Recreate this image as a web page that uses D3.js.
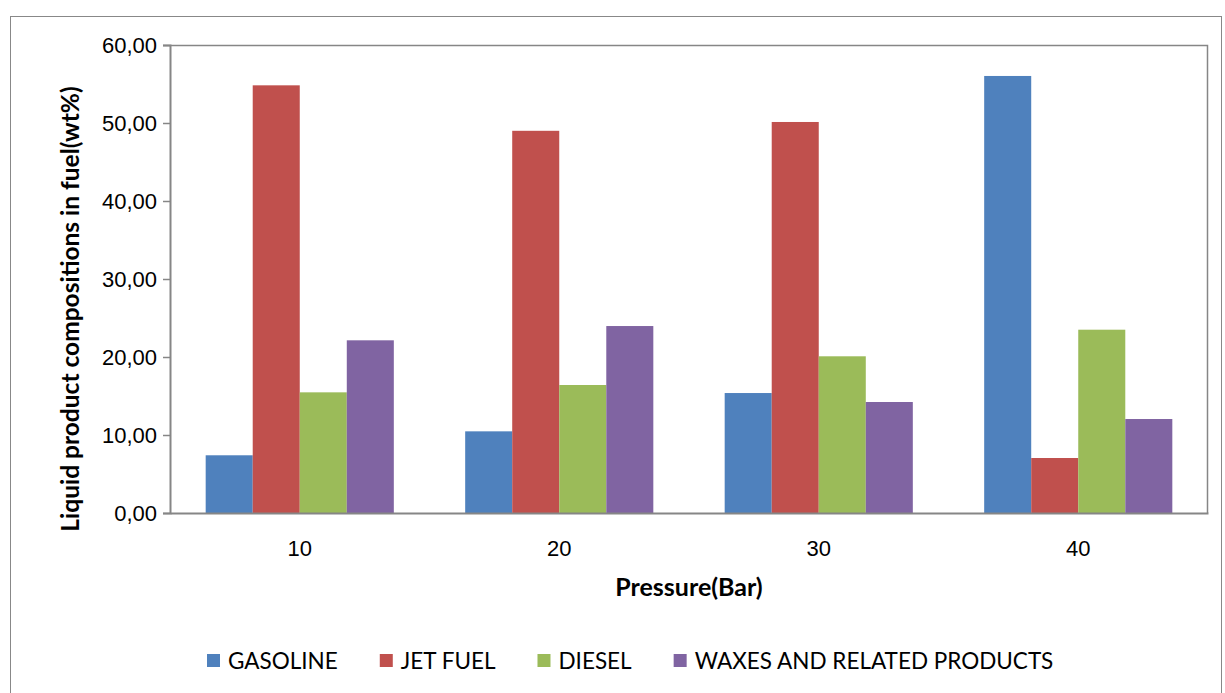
<!DOCTYPE html>
<html>
<head>
<meta charset="utf-8">
<script src="https://cdn.jsdelivr.net/npm/d3@7"></script>
<style>
  body { margin: 0; background: #fff; }
  svg { display: block; font-family: Lato, "Open Sans", sans-serif; }
</style>
</head>
<body>
<div id="chart"></div>
<script>
// Liquid product compositions vs pressure - grouped bar chart

const pressures = ["10", "20", "30", "40"];
const seriesNames = ["GASOLINE", "JET FUEL", "DIESEL", "WAXES AND RELATED PRODUCTS"];
const gasoline = [7.40, 10.47, 15.38, 56.03];
const jetFuel = [54.83, 49.00, 50.13, 7.05];
const diesel = [15.47, 16.41, 20.09, 23.50];
const waxes = [22.14, 23.97, 14.23, 12.05];
const yTicks = [0, 10, 20, 30, 40, 50, 60];

const seriesValues = [gasoline, jetFuel, diesel, waxes];
const colors = ["#4F81BD", "#C0504D", "#9BBB59", "#8064A2"];

const width = 1225, height = 693;
const margin = {top: 45, right: 17, bottom: 180, left: 170};
const plotW = width - margin.left - margin.right;
const plotH = height - margin.top - margin.bottom;

const svg = d3.select("#chart").append("svg")
    .attr("width", width)
    .attr("height", height);

// outer chart frame
svg.append("rect")
    .attr("x", 10.5).attr("y", 16.5)
    .attr("width", 1211).attr("height", 700)
    .attr("fill", "none")
    .attr("stroke", "#888")
    .attr("stroke-width", 1);

const g = svg.append("g")
    .attr("transform", `translate(${margin.left},${margin.top})`);

const x0 = d3.scaleBand()
    .domain(pressures)
    .range([0, plotW])
    .paddingInner(0.275)
    .paddingOuter(0.1375);

const x1 = d3.scaleBand()
    .domain(seriesNames)
    .range([0, x0.bandwidth()]);

const y = d3.scaleLinear()
    .domain([0, 60])
    .range([plotH, 0]);

// bars
const groups = g.selectAll("g.group")
    .data(pressures)
    .enter()
    .append("g")
    .attr("class", "group")
    .attr("transform", d => `translate(${x0(d)},0)`);

groups.selectAll("rect")
    .data((p, i) => seriesNames.map((s, j) => ({series: s, value: seriesValues[j][i], color: colors[j]})))
    .enter()
    .append("rect")
    .attr("x", d => x1(d.series))
    .attr("y", d => y(d.value))
    .attr("width", x1.bandwidth())
    .attr("height", d => plotH - y(d.value))
    .attr("fill", d => d.color);

// plot frame (top & right)
g.append("path")
    .attr("d", `M0,0.5H${plotW - 0.5}V${plotH}`)
    .attr("fill", "none")
    .attr("stroke", "#868686")
    .attr("stroke-width", 1.5);

// y axis
const yAxis = g.append("g")
    .call(d3.axisLeft(y)
        .tickValues(yTicks)
        .tickSize(7)
        .tickPadding(6)
        .tickFormat(d => d3.format(".2f")(d).replace(".", ",")));
yAxis.select(".domain").attr("stroke", "#868686").attr("stroke-width", 2);
yAxis.selectAll(".tick line").attr("stroke", "#868686").attr("stroke-width", 1.5);
yAxis.selectAll(".tick text")
    .style("font-size", "22px")
    .attr("fill", "#000");

// x axis
const xAxis = g.append("g")
    .attr("transform", `translate(0,${plotH})`)
    .call(d3.axisBottom(x0).tickSize(0).tickPadding(27));
xAxis.select(".domain").attr("stroke", "#868686").attr("stroke-width", 2);
xAxis.selectAll(".tick text")
    .style("font-size", "22px")
    .attr("fill", "#000");

// axis titles
svg.append("text")
    .attr("transform", `translate(79,${margin.top + plotH / 2 + 30}) rotate(-90)`)
    .attr("text-anchor", "middle")
    .style("font-size", "24.5px")
    .style("font-weight", "bold")
    .text("Liquid product compositions in fuel(wt%)");

svg.append("text")
    .attr("x", margin.left + plotW / 2)
    .attr("y", 596)
    .attr("text-anchor", "middle")
    .style("font-size", "25px")
    .style("font-weight", "bold")
    .text("Pressure(Bar)");

// legend
const legend = svg.append("g");
let lx = 207;
seriesNames.forEach((name, i) => {
    const item = legend.append("g").attr("transform", `translate(${lx},0)`);
    item.append("rect")
        .attr("x", 0).attr("y", 654)
        .attr("width", 13).attr("height", 13)
        .attr("fill", colors[i]);
    const t = item.append("text")
        .attr("x", 21).attr("y", 669)
        .style("font-size", "22.5px")
        .text(name);
    lx += 21 + t.node().getComputedTextLength() + 42;
});
</script>
</body>
</html>
